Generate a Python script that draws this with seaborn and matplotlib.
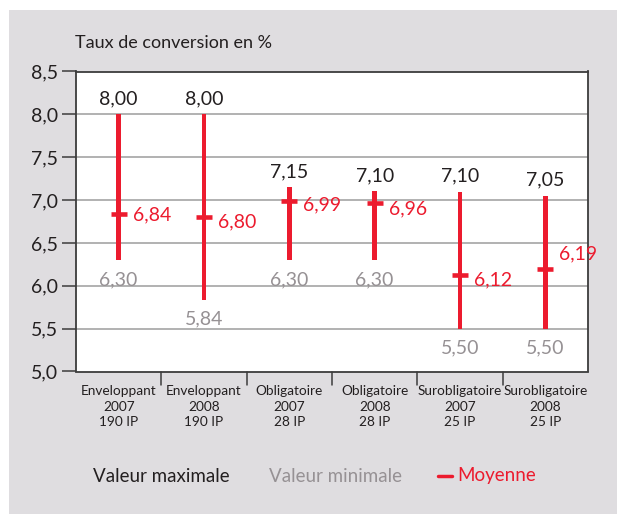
import numpy as np
import pandas as pd
import matplotlib
matplotlib.use("Agg")
import matplotlib.pyplot as plt
import seaborn as sns

# Conversion rates (%) per product group, year and number of institutions
categories = [
    "Enveloppant\n2007\n190 IP",
    "Enveloppant\n2008\n190 IP",
    "Obligatoire\n2007\n28 IP",
    "Obligatoire\n2008\n28 IP",
    "Surobligatoire\n2007\n25 IP",
    "Surobligatoire\n2008\n25 IP",
]
max_values = [8.00, 8.00, 7.15, 7.10, 7.10, 7.05]
min_values = [6.30, 5.84, 6.30, 6.30, 5.50, 5.50]
mean_values = [6.84, 6.80, 6.99, 6.96, 6.12, 6.19]

y_ticks = [5.0, 5.5, 6.0, 6.5, 7.0, 7.5, 8.0, 8.5]

# vertical nudge (points) of each mean label relative to its marker
mean_label_dy = [-1, -3, -3, -4, -3, 11]

RED = "#ec1b2e"
GREY_TXT = "#969194"
DARK_TXT = "#231f20"
BG = "#dfdde0"
FRAME = "#3c3c3c"

sns.set_theme(style="white")
plt.rcParams["font.family"] = ["Lato", "DejaVu Sans"]

df = pd.DataFrame({
    "cat": categories,
    "vmin": min_values,
    "vmax": max_values,
    "mean": mean_values,
})
df["span"] = df["vmax"] - df["vmin"]

fig = plt.figure(figsize=(6.17, 5.14), dpi=100)
fig.patch.set_facecolor("white")
# grey panel behind everything
fig.patches.append(plt.Rectangle((9 / 617, 0), 1, 1 - 10 / 514,
                                 transform=fig.transFigure,
                                 facecolor=BG, edgecolor="none", zorder=-10))

ax = fig.add_axes([76 / 617, 1 - 371.5 / 514, 512 / 617, 300 / 514])
ax.set_facecolor("white")

# min-max range bars
sns.barplot(data=df, x="cat", y="span", bottom=df["vmin"].to_numpy(),
            color=RED, width=0.052, saturation=1, ax=ax, zorder=3,
            linewidth=0, errorbar=None)

# mean markers
sns.pointplot(data=df, x="cat", y="mean", color=RED, markers="_",
              linestyles="none", errorbar=None, ax=ax,
              markersize=11, markeredgewidth=3.3, zorder=4)

ax.set_ylim(5.0, 8.5)
ax.set_xlim(-0.5, len(categories) - 0.5)
ax.set_yticks(y_ticks)
ax.set_yticklabels([f"{t:.1f}".replace(".", ",") for t in y_ticks],
                   fontsize=14, color=DARK_TXT)
for t in y_ticks[1:-1]:
    ax.axhline(t, color="#9d9d9d", lw=1.1, zorder=1)

ax.set_xticks(np.arange(len(categories)))
ax.set_xticklabels(categories, fontsize=9.8, color=DARK_TXT, linespacing=1.35)
ax.tick_params(axis="x", length=0, pad=10)
ax.tick_params(axis="y", length=10, width=1.1, color=FRAME, left=True, pad=3)
# boundary ticks between categories on the bottom axis
for b in np.arange(0.5, len(categories) - 0.5, 1.0):
    ax.plot([b, b], [0, -0.045], transform=ax.get_xaxis_transform(),
            color=FRAME, lw=1.1, clip_on=False)
ax.set_xlabel("")
ax.set_ylabel("")
for side, sp in ax.spines.items():
    sp.set_visible(True)
    sp.set_color(FRAME)
    sp.set_linewidth(1.3)

# value labels
for i, (lo, hi, mu) in enumerate(zip(min_values, max_values, mean_values)):
    ax.annotate(f"{hi:.2f}".replace(".", ","), (i, hi), xytext=(0, 5),
                textcoords="offset points", ha="center", va="bottom",
                fontsize=14, color=DARK_TXT)
    ax.annotate(f"{lo:.2f}".replace(".", ","), (i, lo), xytext=(0, -8),
                textcoords="offset points", ha="center", va="top",
                fontsize=14, color=GREY_TXT)
    ax.annotate(f"{mu:.2f}".replace(".", ","), (i, mu),
                xytext=(10, mean_label_dy[i]), textcoords="offset points",
                ha="left", va="center", fontsize=14, color=RED)

# axis title
fig.text(75 / 617, 1 - 43 / 514, "Taux de conversion en %", fontsize=13,
         color=DARK_TXT, ha="left", va="center")

# legend
ly = 1 - 476 / 514
fig.text(93 / 617, ly, "Valeur maximale", fontsize=13.5, color=DARK_TXT,
         ha="left", va="center")
fig.text(269 / 617, ly, "Valeur minimale", fontsize=13.5, color=GREY_TXT,
         ha="left", va="center")
fig.add_artist(plt.Line2D([438 / 617, 452 / 617], [ly, ly], color=RED,
                          lw=2.5, transform=fig.transFigure))
fig.text(457 / 617, ly, "Moyenne", fontsize=13.5, color=RED,
         ha="left", va="center")

fig.savefig("out.png", dpi=100, facecolor=fig.get_facecolor())
